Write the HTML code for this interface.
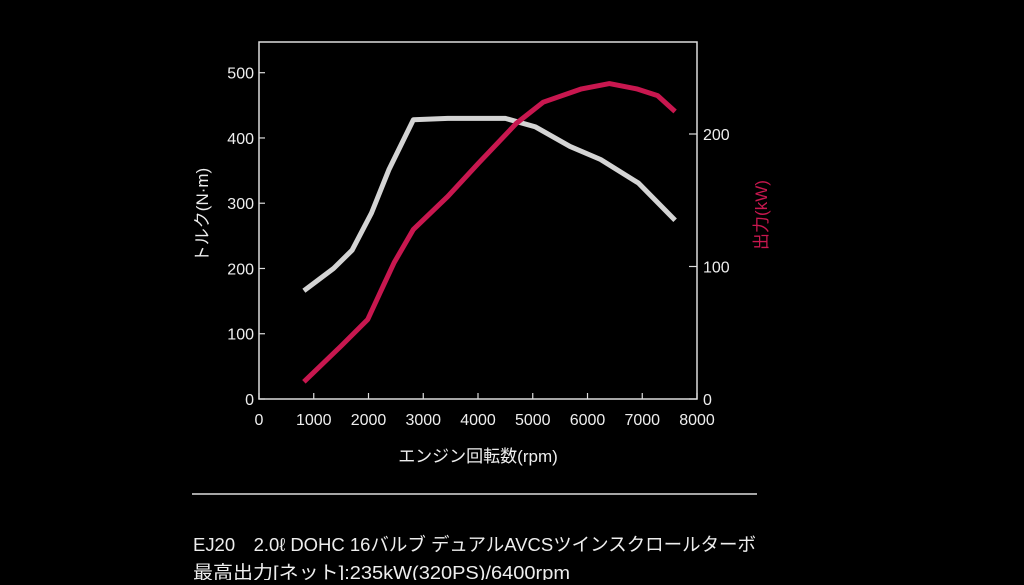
<!DOCTYPE html>
<html><head><meta charset="utf-8"><style>
body{margin:0;background:#000;width:1024px;height:580px;overflow:hidden;font-family:"Liberation Sans","Noto Sans CJK JP",sans-serif}
svg text{font-family:"Liberation Sans","Noto Sans CJK JP",sans-serif}
</style></head><body>
<svg width="1024" height="580">
<rect x="0" y="0" width="1024" height="580" fill="#000"/>
<g id="chart"></g>
<line x1="192" y1="494" x2="757" y2="494" stroke="#ddd" stroke-width="1.5"/>
<text x="193" y="551" fill="#eee" font-size="18.5" textLength="563" lengthAdjust="spacingAndGlyphs">EJ20　2.0ℓ DOHC 16バルブ デュアルAVCSツインスクロールターボ</text>
<text x="193" y="579" fill="#eee" font-size="18.5" textLength="377" lengthAdjust="spacingAndGlyphs">最高出力[ネット]:235kW(320PS)/6400rpm</text>
</svg>
<script>
const xTicks=[0,1000,2000,3000,4000,5000,6000,7000,8000];
const torqueTicks=[0,100,200,300,400,500];
const powerTicks=[0,100,200];
const torqueRpm=[820,1360,1700,2055,2370,2820,3450,4500,5050,5680,6240,6930,7600];
const torqueVals=[166,200,228,285,351,428,430,430,417,387,367,331,274];
const powerRpm=[820,1500,1985,2265,2470,2820,3450,4010,4700,5190,5890,6400,6900,7280,7600];
const powerVals=[13,40,60,85,103,128,153,178,208,224,234,238,234,229,217];
const NS='http://www.w3.org/2000/svg';
const g=document.getElementById('chart');
const X0=259,X1=697,Y0=399,YT=42;
const sx=v=>X0+(v/8000)*(X1-X0);
const syT=v=>Y0-v*(Y0-72.7)/500;
const syP=v=>Y0-v*(Y0-134)/200;
function el(t,a,txt){const e=document.createElementNS(NS,t);for(const k in a)e.setAttribute(k,a[k]);if(txt!==undefined)e.textContent=txt;g.appendChild(e);return e;}
let f=el('rect',{x:X0,y:YT,width:X1-X0,height:Y0-YT,fill:'none',stroke:'#ddd','stroke-width':1.5});


xTicks.forEach(v=>{
 let l=el('line',{x1:sx(v),y1:Y0,x2:sx(v),y2:Y0-6,stroke:'#ddd','stroke-width':1.2});
 
 
 let t=el('text',{x:sx(v),y:Y0+26,fill:'#eee','font-size':16,'text-anchor':'middle'},String(v));
 
 
});
torqueTicks.forEach(v=>{
 let l=el('line',{x1:X0,y1:syT(v),x2:X0+6,y2:syT(v),stroke:'#ddd','stroke-width':1.2});
 
 
 let t=el('text',{x:X0-5,y:syT(v)+6,fill:'#eee','font-size':16,'text-anchor':'end'},String(v));
 
 
});
powerTicks.forEach(v=>{
 let l=el('line',{x1:X1,y1:syP(v),x2:X1-8,y2:syP(v),stroke:'#ddd','stroke-width':1.2});
 
 
 let t=el('text',{x:X1+6,y:syP(v)+6,fill:'#eee','font-size':16},String(v));
 
 
});
let xt=el('text',{x:478,y:462,fill:'#eee','font-size':17,'text-anchor':'middle'},'エンジン回転数(rpm)');


let yt=el('text',{x:0,y:0,fill:'#eee','font-size':17,'text-anchor':'middle',transform:'translate(208,215) rotate(-90)'},'トルク(N·m)');


let pt=el('text',{x:0,y:0,fill:'#c8174f','font-size':17,'text-anchor':'middle',transform:'translate(767,215) rotate(-90)'},'出力(kW)');


function line(xs,ys,sy,c,name){
 const d=xs.map((x,i)=>(i?'L':'M')+sx(x).toFixed(1)+','+sy(ys[i]).toFixed(1)).join(' ');
 let p=el('path',{d:d,fill:'none',stroke:c,'stroke-width':5,'stroke-linejoin':'round'});
 
 
}
line(torqueRpm,torqueVals,syT,'#d4d4d4','torque-curve');
line(powerRpm,powerVals,syP,'#c8174f','power-curve');
</script>
</body></html>
